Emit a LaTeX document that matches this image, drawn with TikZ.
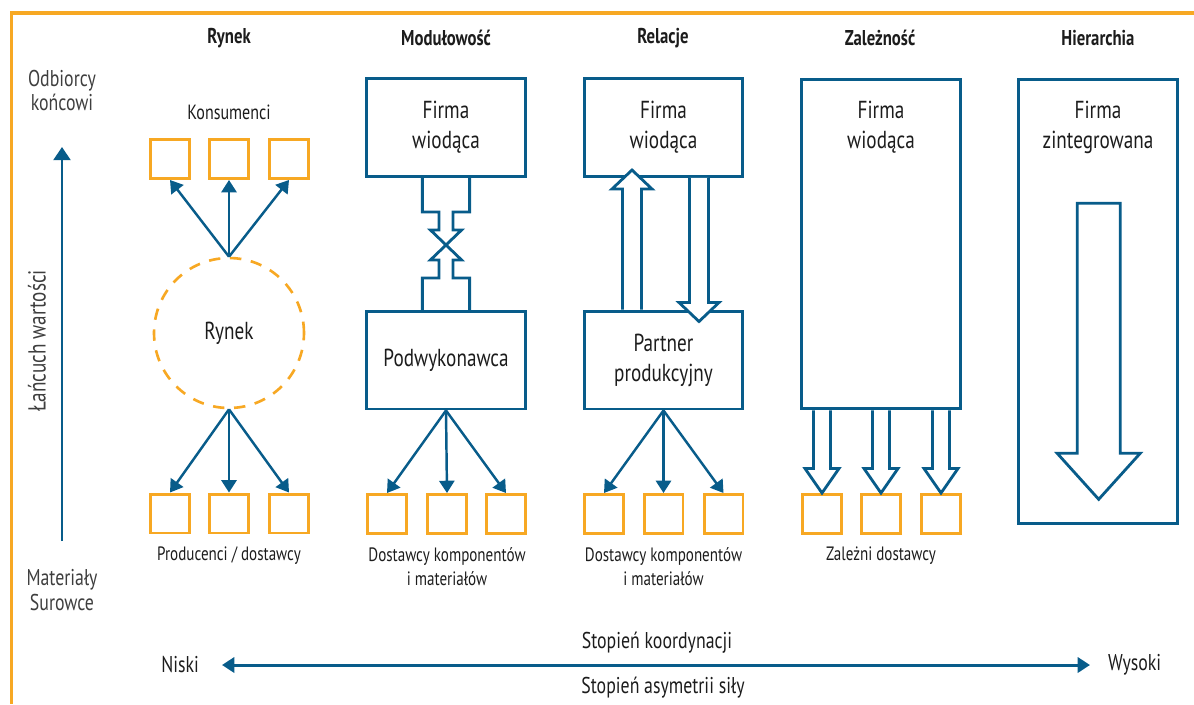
\documentclass[tikz,border=0pt]{standalone}
\usepackage{fontspec}
\setmainfont{PT Sans}[FakeStretch=0.78]
\usetikzlibrary{arrows.meta,positioning,calc}
\definecolor{cblue}{RGB}{8,92,138}
\definecolor{corange}{RGB}{247,168,35}
\definecolor{ink}{RGB}{28,28,28}
\definecolor{softink}{RGB}{62,62,62}

\begin{document}
\begin{tikzpicture}[
  x=0.02cm, y=-0.02cm,
  font=\fontsize{11}{14.2}\selectfont, text=ink,
  >={Triangle[length=7pt,width=8.6pt]},
  frame/.style={draw=corange, line width=1.8pt, line join=miter},
  head/.style={font=\bfseries\fontsize{12.2}{14}\selectfont},
  caption/.style={font=\fontsize{11}{14.2}\selectfont, align=center, inner sep=1pt},
  axistext/.style={font=\fontsize{13}{14.2}\selectfont, align=center, inner sep=1pt},
  side/.style={font=\fontsize{13}{14.2}\selectfont, text=softink, align=center},
  firm/.style={draw=cblue, line width=1.7pt, fill=white, minimum width=3.18cm, minimum height=1.96cm, inner sep=0pt, font=\fontsize{14}{17}\selectfont, align=center},
  firmtext/.style={font=\fontsize{14}{17}\selectfont, align=center},
  unit/.style={draw=corange, line width=1.7pt, minimum size=0.78cm, inner sep=0pt},
  market/.style={circle, draw=corange, line width=1.5pt, dash pattern=on 6.5pt off 5.5pt, minimum size=3cm, font=\fontsize{14}{17}\selectfont},
  flow/.style={->, line width=1.4pt, draw=cblue},
  axis/.style={line width=1.7pt, draw=cblue},
  blockline/.style={draw=cblue, line width=1.6pt, line join=miter},
  hollow/.style n args={3}{draw=cblue, line width=1.6pt, line join=miter, fill=white,
    to path={($(\tikztostart)!#1!90:(\tikztotarget)$)
      -- ($(\tikztotarget)!#3!(\tikztostart)!#1!-90:(\tikztostart)$)
      -- ($(\tikztotarget)!#3!(\tikztostart)!#2!-90:(\tikztostart)$)
      -- (\tikztotarget)
      -- ($(\tikztotarget)!#3!(\tikztostart)!#2!90:(\tikztostart)$)
      -- ($(\tikztotarget)!#3!(\tikztostart)!#1!90:(\tikztostart)$)
      -- ($(\tikztostart)!#1!-90:(\tikztotarget)$)}}
]
\useasboundingbox (0,0) rectangle (1194,704);

% Frame
\draw[frame] (11.5,704) -- (11.5,13) -- (1194,13);

% Column headings
\node[head] (hrynek) at (229,38) {Rynek};
\node[head] (hmod) at (446,38) {Modułowość};
\node[head] (hrel) at (663,38) {Relacje};
\node[head] (hzal) at (880,38) {Zależność};
\node[head] (hhier) at (1098,38) {Hierarchia};

% Value chain
\node[side] (odb) at (62,90.5) {Odbiorcy\\końcowi};
\node[side] (mat) at (62,590.5) {Materiały\\Surowce};
\node[side, rotate=90, font=\fontsize{14}{16}\selectfont] (chain) at (37,341) {Łańcuch wartości};
\coordinate (vcbot) at (62,541);
\coordinate (vctop) at (62,147);
\draw[axis, ->, >={Triangle[length=7.5pt,width=9.6pt]}] (vcbot) -- (vctop);

% Rynek
\node[market] (market) at (229,333) {Rynek};
\node[unit] (k1) at (170,159) {};
\node[unit] (k2) at (229,159) {};
\node[unit] (k3) at (289,159) {};
\node[unit] (p1) at (170,513.5) {};
\node[unit] (p2) at (229,513.5) {};
\node[unit] (p3) at (289,513.5) {};
\node[caption, above=0.32cm of k2, font=\fontsize{11.7}{14.2}\selectfont] (kons) {Konsumenci};
\node[caption, below=0.2cm of p2] (prod) {Producenci / dostawcy};
\draw[flow] (market.north) -- (k1.south);
\draw[flow] (market.north) -- (k2.south);
\draw[flow] (market.north) -- (k3.south);
\draw[flow] (market.south) -- (p1.north);
\draw[flow] (market.south) -- (p2.north);
\draw[flow] (market.south) -- (p3.north);

% Modulowosc
\node[firm] (mfirm) at (446,127.5) {Firma\\wiodąca};
\node[firm] (msub) at (446,360) {Podwykonawca};
\begin{scope}[shift={(mfirm.south)}]
\draw[blockline] (-23.6,0) -- (-23.6,34) -- (-7,34) -- (-7,52) -- (-15.6,52) -- (15.6,82) -- (7,82) -- (7,100) -- (23.6,100) -- (23.6,133);
\draw[blockline] (23.6,0) -- (23.6,34) -- (7,34) -- (7,52) -- (15.6,52) -- (-15.6,82) -- (-7,82) -- (-7,100) -- (-23.6,100) -- (-23.6,133);
\end{scope}
\node[unit] (m1) at (387,514) {};
\node[unit] (m2) at (447,514) {};
\node[unit] (m3) at (506,514) {};
\node[caption, below=0.2cm of m2] (mdost) {Dostawcy komponentów\\i materiałów};
\draw[flow] (msub.south) -- (m1.north);
\draw[flow] (msub.south) -- (m2.north);
\draw[flow] (msub.south) -- (m3.north);

% Relacje
\node[firm] (rfirm) at (663.5,127.5) {Firma\\wiodąca};
\node[firm] (rpart) at (663.5,360) {Partner\\produkcyjny};
\draw[hollow={0.19cm}{0.4cm}{0.38cm}] ([xshift=-0.63cm]rpart.north) to ([xshift=-0.63cm,yshift=0.16cm]rfirm.south);
\draw[hollow={0.19cm}{0.4cm}{0.38cm}] ([xshift=0.71cm]rfirm.south) to ([xshift=0.71cm,yshift=-0.24cm]rpart.north);
\node[unit] (r1) at (604,514) {};
\node[unit] (r2) at (663.5,514) {};
\node[unit] (r3) at (723.5,514) {};
\node[caption, below=0.2cm of r2] (rdost) {Dostawcy komponentów\\i materiałów};
\draw[flow] (rpart.south) -- (r1.north);
\draw[flow] (rpart.south) -- (r2.north);
\draw[flow] (rpart.south) -- (r3.north);

% Zaleznosc
\node[firm, minimum height=6.6cm] (zfirm) at (881,244) {};
\node[firmtext] (ztext) at (zfirm.north |- mfirm) {Firma\\wiodąca};
\node[unit] (z1) at (822,514) {};
\node[unit] (z2) at (881,514) {};
\node[unit] (z3) at (941,514) {};
\node[caption, below=0.2cm of z2] (zdost) {Zależni dostawcy};
\draw[hollow={0.17cm}{0.34cm}{0.49cm}] (z1 |- zfirm.south) to (z1.north);
\draw[hollow={0.17cm}{0.34cm}{0.49cm}] (z2 |- zfirm.south) to (z2.north);
\draw[hollow={0.17cm}{0.34cm}{0.49cm}] (z3 |- zfirm.south) to (z3.north);

% Hierarchia
\node[firm, minimum height=8.9cm] (hfirm) at (1098,301.5) {};
\node[firmtext] (htext) at (hfirm.north |- mfirm) {Firma\\zintegrowana};
\coordinate (htop) at (1098.7,203.3);
\coordinate (hbot) at (1098.7,499.3);
\draw[hollow={0.43cm}{0.83cm}{0.92cm}] (htop) to (hbot) -- cycle;

% Coordination axis
\node[axistext, anchor=east] (niski) at (201,665) {Niski};
\node[axistext, anchor=west] (wysoki) at (1106,665) {Wysoki};
\draw[axis, <->, shorten <=0.42cm, shorten >=0.32cm] (niski.east) -- (wysoki.west);
\node[axistext] (koord) at (657,643) {Stopień koordynacji};
\node[axistext] (asym) at (663,688) {Stopień asymetrii siły};

\end{tikzpicture}
\end{document}
